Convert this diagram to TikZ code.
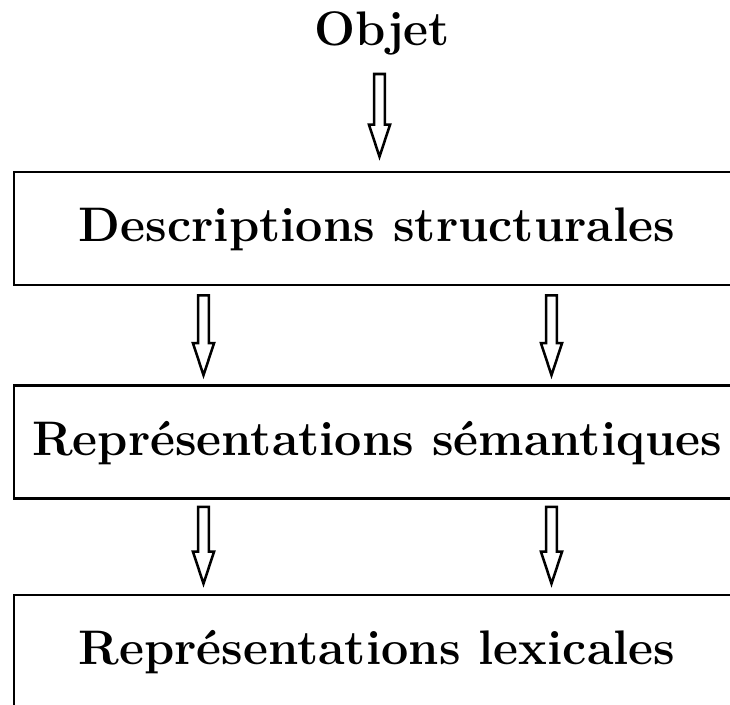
\documentclass[tikz,border=0pt]{standalone}
\usetikzlibrary{positioning,calc}

\begin{document}
\begin{tikzpicture}[
    x=0.75pt, y=-0.75pt,
    txt/.style={font=\fontsize{36.4}{40}\selectfont\bfseries, inner sep=0pt},
    box/.style={draw, line width=2pt, minimum width=544.5pt, minimum height=84.75pt,
        text height=25.5pt, text depth=6pt, font=\fontsize{36.4}{40}\selectfont\bfseries},
    hollow/.style={draw, line width=1.9pt,
        to path={let \p1=(\tikztostart), \p2=(\tikztotarget) in
            (\x1-4.1pt,\y1) -- (\x1-4.1pt,\y2+24pt) -- (\x1-7.9pt,\y2+24pt) -- (\x2,\y2)
            -- (\x1+7.9pt,\y2+24pt) -- (\x1+4.1pt,\y2+24pt) -- (\x1+4.1pt,\y1) -- cycle}}
]
\useasboundingbox (0,0) rectangle (730,704);

\node[txt, anchor=base] (objet) at (382,45) {Objet};
\node[box] (desc) at (377,228.5) {Descriptions structurales};
\node[box] (sem) at (377,442) {Représentations sémantiques};
\node[box] (lex) at (377,651.5) {Représentations lexicales};

\path[hollow] ($(objet.base)+(-2.5,29)$) to ($(desc.north)+(2.5,-14)$);
\path[hollow] ($(desc.south)+(-173.5,9)$) to ($(sem.north)+(-173.5,-9)$);
\path[hollow] ($(desc.south)+(174.5,9)$) to ($(sem.north)+(174.5,-9)$);
\path[hollow] ($(sem.south)+(-173.5,7)$) to ($(lex.north)+(-173.5,-10)$);
\path[hollow] ($(sem.south)+(174.5,7)$) to ($(lex.north)+(174.5,-10)$);
\end{tikzpicture}
\end{document}
